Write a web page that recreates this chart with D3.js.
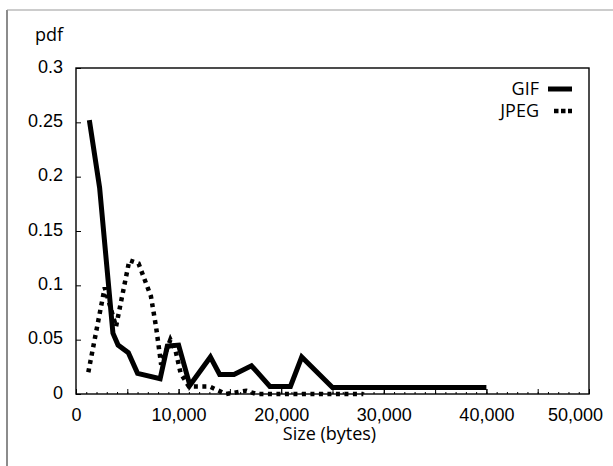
<!DOCTYPE html>
<html lang="en">
<head>
<meta charset="utf-8">
<style>
  body { margin: 0; background: white; }
  svg { font-family: 'Open Sans', sans-serif; }
  .axis path { display: none; }
  .axis line { stroke: black; stroke-width: 1px; }
  .axis text { font-size: 18px; fill: black; }
  .frame { fill: none; stroke: black; stroke-width: 1.4px; }
  .line { fill: none; stroke: black; }
</style>
</head>
<body>
<svg width="613" height="466"></svg>
<script src="https://d3js.org/d3.v7.min.js"></script>
<script>
// values
const xTicks = [0, 10000, 20000, 30000, 40000, 50000];
const xTickLabels = ["0", "10,000", "20,000", "30,000", "40,000", "50,000"];
const yTicks = [0, 0.05, 0.1, 0.15, 0.2, 0.25, 0.3];
const yTickLabels = ["0", "0.05", "0.1", "0.15", "0.2", "0.25", "0.3"];

const gifSize = [1300, 2300, 3600, 4100, 5100, 6000, 8200, 8900, 10000, 11100, 13100, 14000, 15400, 17100, 18900, 20900, 22000, 25000, 40000];
const gifPdf  = [0.252, 0.19, 0.056, 0.045, 0.038, 0.019, 0.014, 0.044, 0.045, 0.008, 0.034, 0.018, 0.018, 0.026, 0.007, 0.007, 0.034, 0.006, 0.006];

const jpegSize = [1200, 2800, 3900, 5200, 6100, 7300, 7800, 8300, 9200, 9700, 10200, 11000, 13000, 14600, 16600, 17600, 28000];
const jpegPdf  = [0.02, 0.098, 0.062, 0.123, 0.12, 0.09, 0.062, 0.027, 0.05, 0.04, 0.019, 0.007, 0.007, 0.0, 0.003, 0.0, 0.0];

const plot = {left: 76, right: 589, top: 68, bottom: 394};

const x = d3.scaleLinear().domain([0, 50000]).range([plot.left, plot.right]);
const y = d3.scaleLinear().domain([0, 0.3]).range([plot.bottom, plot.top]);

const svg = d3.select("svg");

// outer border (only left and top show in the picture)
svg.append("line").attr("x1", 7).attr("y1", 10).attr("x2", 7).attr("y2", 466)
  .attr("stroke", "#666").attr("stroke-width", 1.5);
svg.append("line").attr("x1", 7).attr("y1", 10).attr("x2", 613).attr("y2", 10)
  .attr("stroke", "#999").attr("stroke-width", 1.2);

// minor x ticks
svg.append("g")
  .attr("class", "axis")
  .attr("transform", "translate(0," + plot.bottom + ")")
  .call(d3.axisBottom(x).tickValues(d3.range(0, 50001, 1000)).tickSizeInner(-2).tickFormat(""))
  .selectAll("line").attr("stroke-width", 0.8);

svg.append("g")
  .attr("class", "axis")
  .attr("transform", "translate(0," + plot.bottom + ")")
  .call(d3.axisBottom(x).tickValues(d3.range(0, 50001, 5000)).tickSizeInner(-5).tickFormat(""));

const xAxis = svg.append("g")
  .attr("class", "axis")
  .attr("transform", "translate(0," + plot.bottom + ")")
  .call(d3.axisBottom(x).tickValues(xTicks).tickSizeInner(-5).tickPadding(14)
    .tickFormat((d, i) => xTickLabels[i]));
// last label is pulled in so it stays inside the page
xAxis.selectAll("text").filter(d => d === 50000).attr("dx", -14);

svg.append("g")
  .attr("class", "axis")
  .attr("transform", "translate(" + plot.left + ",0)")
  .call(d3.axisLeft(y).tickValues(yTicks).tickSizeInner(-5).tickPadding(13)
    .tickFormat((d, i) => yTickLabels[i]))
  .selectAll("text").attr("dy", "0.24em");

svg.append("rect")
  .attr("class", "frame")
  .attr("x", plot.left).attr("y", plot.top)
  .attr("width", plot.right - plot.left)
  .attr("height", plot.bottom - plot.top);

svg.append("text")
  .attr("x", 63).attr("y", 41)
  .attr("text-anchor", "end")
  .style("font-size", "18px")
  .text("pdf");

svg.append("text")
  .attr("x", (plot.left + plot.right) / 2 - 3).attr("y", 440)
  .attr("text-anchor", "middle")
  .style("font-size", "18px")
  .text("Size (bytes)");

const line = d3.line()
  .x(d => x(d[0]))
  .y(d => y(d[1]));

svg.append("path")
  .datum(jpegSize.map((s, i) => [s, jpegPdf[i]]))
  .attr("class", "line")
  .attr("stroke-width", 4.5)
  .attr("stroke-dasharray", "4,4.5")
  .attr("d", line);

svg.append("path")
  .datum(gifSize.map((s, i) => [s, gifPdf[i]]))
  .attr("class", "line")
  .attr("stroke-width", 5)
  .attr("stroke-linejoin", "miter")
  .attr("d", line);

// legend
const legend = [
  {name: "GIF", dash: null, width: 5},
  {name: "JPEG", dash: "4.5,2.5", width: 4.5}
];
legend.forEach((l, i) => {
  const ly = 89 + i * 22;
  svg.append("text")
    .attr("x", 539).attr("y", ly + 6)
    .attr("text-anchor", "end")
    .style("font-size", "18px")
    .text(l.name);
  svg.append("line")
    .attr("x1", i === 0 ? 548 : 554).attr("x2", 572)
    .attr("y1", ly).attr("y2", ly)
    .attr("stroke", "black")
    .attr("stroke-width", l.width)
    .attr("stroke-dasharray", l.dash);
});
</script>
</body>
</html>
